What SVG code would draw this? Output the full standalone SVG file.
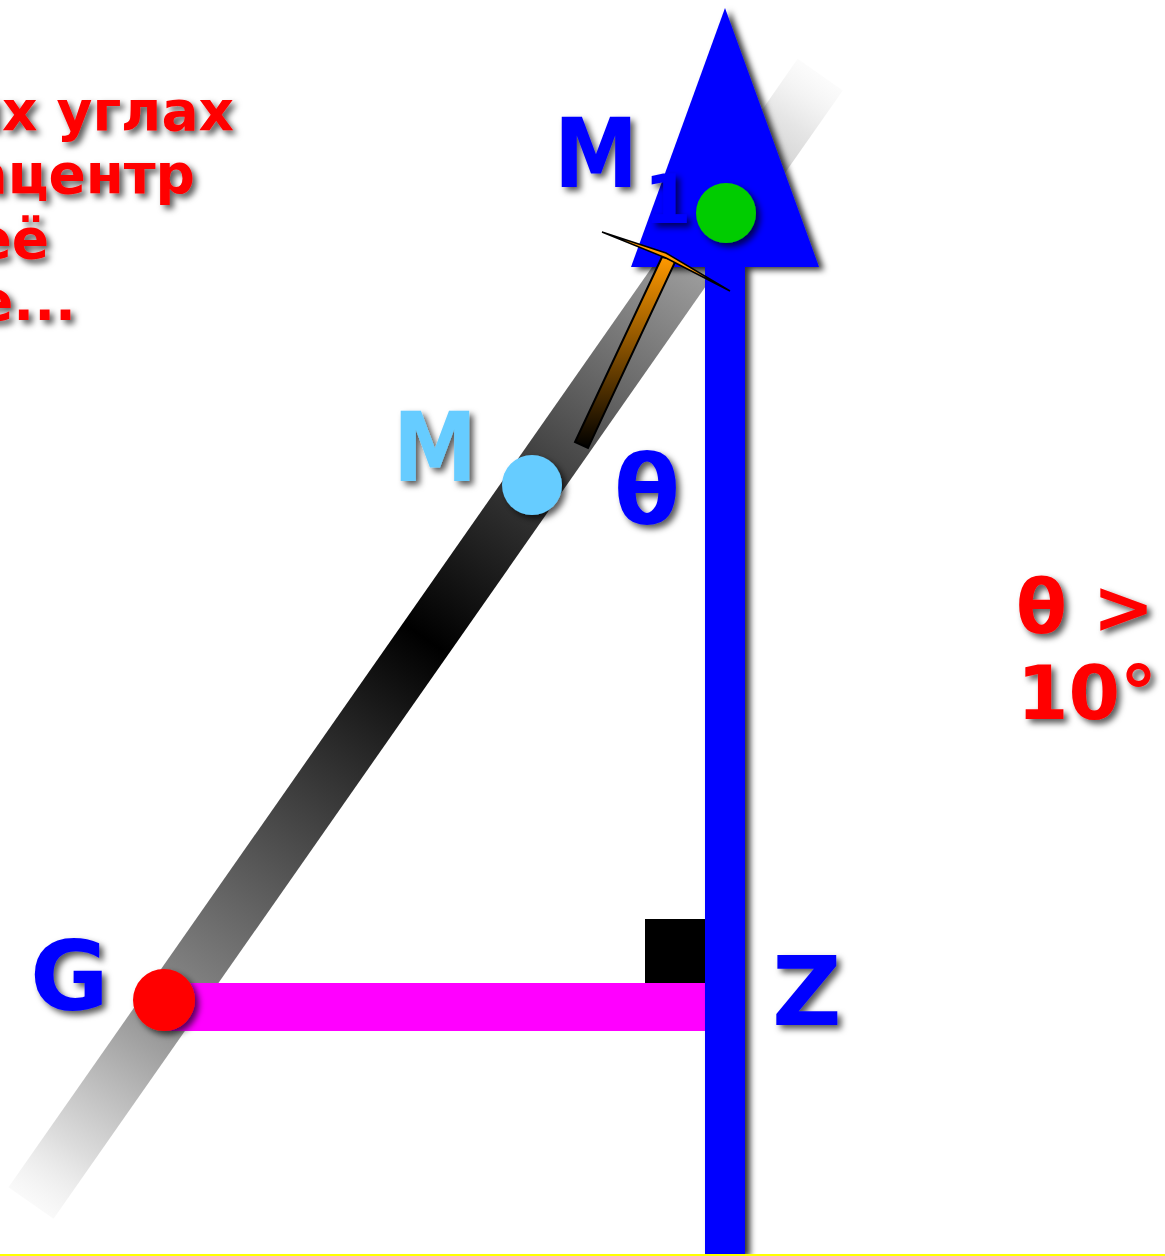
<svg xmlns="http://www.w3.org/2000/svg" width="1165" height="1256" viewBox="0 0 1165 1256">
<defs>
<style>
.lbl{font-family:"DejaVu Sans","Verdana",sans-serif;font-weight:bold;font-size:96px}
.red{font-family:"DejaVu Sans","Verdana",sans-serif;font-weight:bold;fill:#ff0000}
</style>
<filter id="sh" x="-30%" y="-30%" width="160%" height="160%">
<feDropShadow dx="4" dy="4" stdDeviation="3" flood-color="#000" flood-opacity="0.65"/>
</filter>
<filter id="sh2" x="-30%" y="-10%" width="160%" height="120%">
<feDropShadow dx="5" dy="3" stdDeviation="3" flood-color="#000" flood-opacity="0.8"/>
</filter>
<linearGradient id="band" x1="0" y1="0" x2="1" y2="0">
<stop offset="0" stop-color="#f4f4f4" stop-opacity="0.5"/>
<stop offset="0.05" stop-color="#dddddd"/>
<stop offset="0.18" stop-color="#888888"/>
<stop offset="0.5" stop-color="#000000"/>
<stop offset="0.64" stop-color="#3a3a3a"/>
<stop offset="0.85" stop-color="#a5a5a5"/>
<stop offset="0.96" stop-color="#e6e6e6"/>
<stop offset="1" stop-color="#f8f8f8" stop-opacity="0.5"/>
</linearGradient>
<linearGradient id="rod" x1="0" y1="0" x2="0" y2="1">
<stop offset="0" stop-color="#ff9900"/>
<stop offset="1" stop-color="#000000"/>
</linearGradient>
</defs>
<rect width="1165" height="1256" fill="#ffffff"/>
<g id="band-line" transform="translate(31,1203) rotate(-55.03)">
<rect x="0" y="-27.5" width="1377" height="55" fill="url(#band)"/>
</g>
<g id="connectors">
<rect id="gz-bar" x="163" y="983" width="542" height="48" fill="#ff00ff"/>
<rect id="right-angle" x="645" y="919" width="60" height="64" fill="#000000"/>
<g id="z-axis" filter="url(#sh2)">
<rect x="705" y="260" width="40" height="994" fill="#0000ff"/>
<polygon points="725,8 819,267 631,267" fill="#0000ff"/>
</g>
<g id="pendulum">
<polygon points="662,257 676,260 588,448 575,442" fill="url(#rod)" stroke="#000" stroke-width="2"/>
<polygon points="602,232 666,253 730,291 666,258" fill="#ff9900" stroke="#000" stroke-width="1.5" stroke-linejoin="miter"/>
</g>
</g>
<g id="node-M1">
<circle cx="726" cy="213" r="30" fill="#00cc00" filter="url(#sh)"/>
<text class="lbl" x="554" y="187" fill="#0000ff" textLength="84" lengthAdjust="spacingAndGlyphs" filter="url(#sh)">M</text>
<text class="lbl" x="644" y="223" fill="#0000ff" font-size="68" style="font-size:68px" filter="url(#sh)">1</text>
</g>
<g id="node-M">
<circle cx="532" cy="485" r="30" fill="#66ccff" filter="url(#sh)"/>
<text class="lbl" x="393" y="481" fill="#66ccff" textLength="84" lengthAdjust="spacingAndGlyphs" filter="url(#sh)">M</text>
</g>
<g id="node-theta">
<text class="lbl" x="614" y="524" fill="#0000ff" filter="url(#sh)">θ</text>
</g>
<g id="node-G">
<circle cx="164" cy="1000" r="31" fill="#ff0000" filter="url(#sh)"/>
<text class="lbl" x="30" y="1010" fill="#0000ff" filter="url(#sh)">G</text>
</g>
<g id="node-Z">
<text class="lbl" x="772" y="1025" fill="#0000ff" filter="url(#sh)">Z</text>
</g>
<g id="note-left" filter="url(#sh)">
<text class="red" font-size="55" style="font-size:55px" text-anchor="end" x="234" y="130">их углах</text>
<text class="red" font-size="55" style="font-size:55px" text-anchor="end" x="195" y="193">ацентр</text>
<text class="red" font-size="55" style="font-size:55px" text-anchor="end" x="49" y="258">её</text>
<text class="red" font-size="55" style="font-size:55px" text-anchor="end" x="76" y="320">е...</text>
</g>
<g id="note-right" filter="url(#sh)">
<text class="red" font-size="74" style="font-size:74px" x="1016" y="633">θ &gt;</text>
<text class="red" font-size="74" style="font-size:74px" x="1017" y="719">10°</text>
</g>
<rect id="ground" x="0" y="1254" width="1165" height="2" fill="#ffff00"/>
</svg>
